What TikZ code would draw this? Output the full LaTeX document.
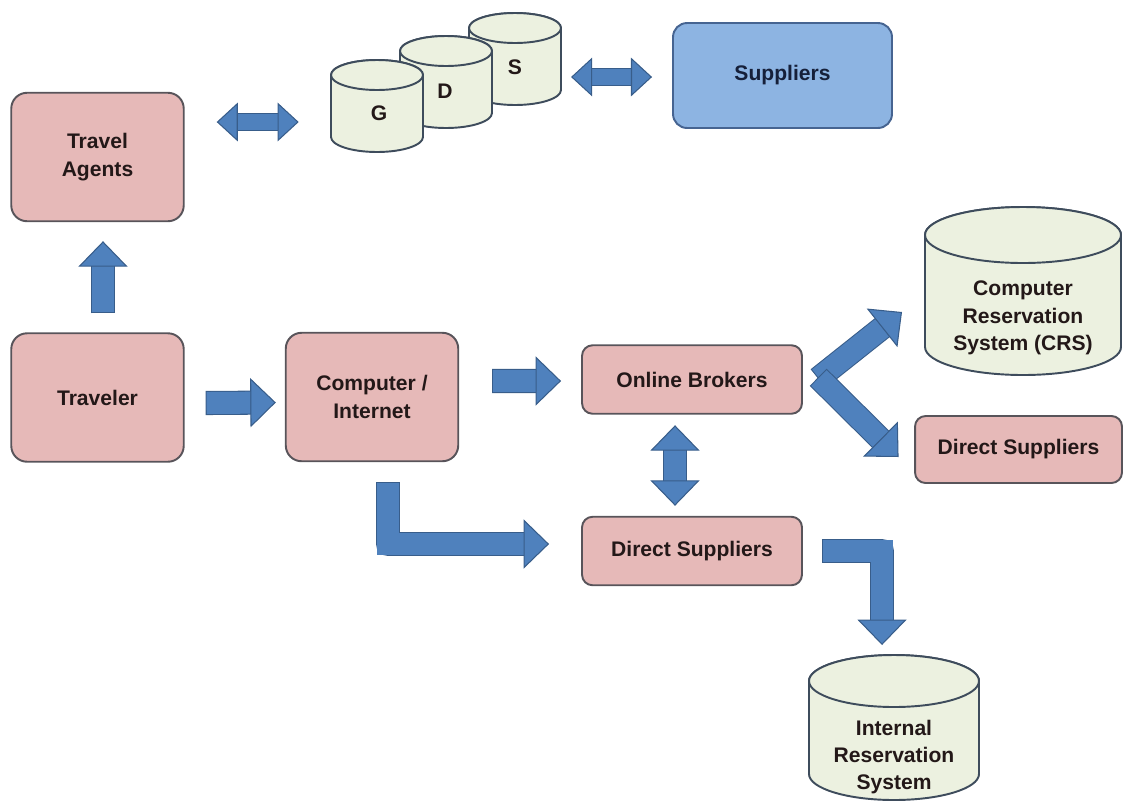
\documentclass[tikz,border=0pt]{standalone}
\usepackage{fontspec}
\setmainfont{Liberation Sans}
\usetikzlibrary{arrows.meta}
\definecolor{boxpink}{RGB}{230,185,184}
\definecolor{boxedge}{RGB}{88,84,90}
\definecolor{supblue}{RGB}{141,180,226}
\definecolor{supedge}{RGB}{70,100,145}
\definecolor{suptext}{RGB}{22,32,58}
\definecolor{drumfill}{RGB}{236,241,224}
\definecolor{drumedge}{RGB}{62,76,92}
\definecolor{arrowblue}{RGB}{79,129,189}
\definecolor{arrowedge}{RGB}{56,93,138}
\definecolor{txt}{RGB}{35,24,24}
% database drum: centre x, top y, bottom y, x radius, y radius
\newcommand{\drum}[5]{%
  \filldraw[drum] (#1-#4,#2) -- (#1-#4,#3)
    arc[start angle=180,end angle=0,x radius=#4,y radius=#5]
    -- (#1+#4,#2) arc[start angle=0,end angle=-180,x radius=#4,y radius=#5] -- cycle;
  \draw[drum] (#1,#2) ellipse[x radius=#4,y radius=#5];}
\begin{document}
\begin{tikzpicture}[x=0.02cm,y=-0.02cm,line join=round,
    >={Triangle[length=14.5pt,width=28pt,line width=.6pt,color=arrowedge,fill=arrowblue]},
    font=\fontsize{12}{15.5}\selectfont\bfseries,
    box/.style={draw=boxedge,fill=boxpink,line width=1.1pt,rounded corners=9pt,inner sep=0pt,align=center,text=txt},
    bigbox/.style={box,minimum width=3.45cm,minimum height=2.57cm},
    flatbox/.style={box,rounded corners=6pt,minimum width=4.4cm,minimum height=1.37cm},
    lbl/.style={align=center,text=txt,inner sep=0pt},
    drum/.style={draw=drumedge,fill=drumfill,line width=1.1pt},
    fat/.style={arrowblue,line width=12.5pt,line join=miter,->,
      preaction={draw=arrowedge,line width=13.7pt,-,shorten >=13pt,shorten <=-.6pt}},
    fatboth/.style={arrowblue,line width=13pt,line join=miter,<->,
      preaction={draw=arrowedge,line width=14.2pt,-,shorten >=13pt,shorten <=13pt}},
    slimboth/.style={arrowblue,line width=9.5pt,<->,
      >={Triangle[length=12pt,width=22pt,line width=.6pt,color=arrowedge,fill=arrowblue]},
      preaction={draw=arrowedge,line width=10.7pt,-,shorten >=10.5pt,shorten <=10.5pt}}]
	\useasboundingbox (0,0) rectangle (1125,802);
	% boxes
	\node[bigbox] (agents) at (97.5,157) {Travel\\Agents};
	\node[bigbox] (traveler) at (97.5,397.5) {Traveler};
	\node[bigbox] (computer) at (372,397) {Computer /\\Internet};
	\node[flatbox] (brokers) at (692,379.5) {Online Brokers};
	\node[flatbox] (direct) at (692,551) {Direct Suppliers};
	\node[flatbox,minimum width=4.14cm,minimum height=1.34cm] (directr) at (1018.5,449.5) {Direct Suppliers};
	\node[box,fill=supblue,draw=supedge,text=suptext,rounded corners=8pt,minimum width=4.38cm,minimum height=2.1cm] (suppliers) at (782.5,75.5) {Suppliers};
	% G D S
	\drum{515}{28}{90}{46}{15}
	\drum{446}{51}{113}{46}{15}
	\drum{377}{75}{137}{46}{15}
	\node[lbl] (gdss) at (515,67) {S};
	\node[lbl] (gdsd) at (445,91) {D};
	\node[lbl] (gdsg) at (379,113) {G};
	% reservation systems
	\drum{1023}{235}{347}{98}{28}
	\node[lbl] (crs) at (1023,318) {Computer\\Reservation\\System (CRS)};
	\drum{894}{681}{774}{85}{26}
	\node[lbl] (irs) at (894,757) {Internal\\Reservation\\System};
	\coordinate (crsin) at (902,312);
	\coordinate (irstop) at (894,655);
	% arrows
	\draw[slimboth] ([xshift=6.4mm,yshift=7mm]agents.east) -- ++(82,0);
	\draw[slimboth] ([xshift=-4mm,yshift=-.3mm]suppliers.west) -- ++(-81,0);
	\draw[fat] ([xshift=1.1mm,yshift=4mm]traveler.north) -- ([xshift=1.1mm,yshift=-3.8mm]agents.south);
	\draw[fat] ([xshift=4.4mm,yshift=-1.1mm]traveler.east) -- ([xshift=-1.8mm,yshift=-1.1mm]computer.west);
	\draw[fat] ([xshift=6.8mm,yshift=3.2mm]computer.east) -- ([xshift=-4mm,yshift=-.3mm]brokers.west);
	\draw[fat] ([xshift=3.2mm,yshift=-4.2mm]computer.south) |- ([xshift=-6.4mm,yshift=1.4mm]direct.west);
	\draw[fatboth] ([xshift=-3.4mm,yshift=-2.1mm]brokers.south) -- ([xshift=-3.4mm,yshift=2mm]direct.north);
	\draw[fat] ([xshift=3.2mm,yshift=.3mm]brokers.east) -- (crsin);
	\draw[fat] ([xshift=3.2mm,yshift=.3mm]brokers.east) -- ([xshift=-3.1mm,yshift=-1.5mm]directr.west);
	\draw[fat] ([xshift=4mm]direct.east) -| ([xshift=-2.4mm,yshift=2mm]irstop);
\end{tikzpicture}
\end{document}
